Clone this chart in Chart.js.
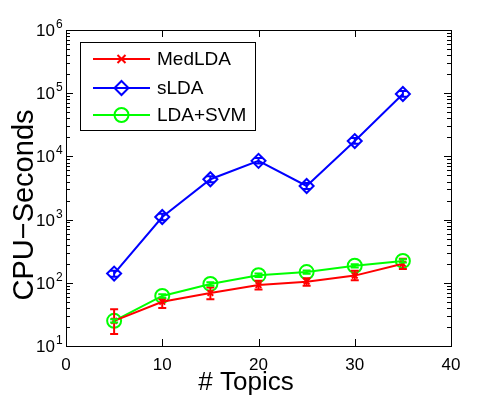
<!DOCTYPE html>
<html>
<head>
<meta charset="utf-8">
<script src="https://cdn.jsdelivr.net/npm/chart.js@4/dist/chart.umd.min.js"></script>
<style>
  body { margin: 0; background: #fff; }
  canvas { display: block; }
</style>
</head>
<body>
<canvas id="cpuChart" width="498" height="398"></canvas>
<script>
// number of topics
const topics = [5, 10, 15, 20, 25, 30, 35];

// CPU seconds per model
const medLDA = [25, 50, 69, 92, 104, 130, 200];
const medLow = [15.5, 40, 55, 78, 90, 110, 165];
const medHigh = [38, 56, 84, 108, 118, 155, 240];

const sLDA = [140, 1100, 4350, 8500, 3400, 17500, 97000];
const sLow = [125, 980, 3900, 7700, 3050, 15800, 88000];
const sHigh = [155, 1240, 4850, 9400, 3800, 19500, 108000];

const ldaSVM = [25, 62, 96, 132, 148, 186, 222];
const svmLow = [23.5, 58, 90, 124, 139, 175, 210];
const svmHigh = [26.5, 66, 102, 140, 157, 197, 235];

const xTicks = [0, 10, 20, 30, 40];
const yExp = [1, 2, 3, 4, 5, 6];

const names = ['MedLDA', 'sLDA', 'LDA+SVM'];
const colors = ['#ff0000', '#0000ff', '#00ff00'];
const markers = ['crossRot', 'rectRot', 'circle'];
const markerSize = [4, 7, 7];

const FONT = '"Liberation Sans", Arial, sans-serif';

function pts(vals) {
    return topics.map((t, i) => ({x: t, y: vals[i]}));
}

function drawMarker(ctx, type, x, y, r, color) {
    ctx.save();
    ctx.strokeStyle = color;
    ctx.lineWidth = 2;
    ctx.beginPath();
    if (type === 'crossRot') {
        ctx.moveTo(x - r, y - r); ctx.lineTo(x + r, y + r);
        ctx.moveTo(x + r, y - r); ctx.lineTo(x - r, y + r);
    } else if (type === 'rectRot') {
        ctx.moveTo(x, y - r); ctx.lineTo(x + r, y);
        ctx.lineTo(x, y + r); ctx.lineTo(x - r, y); ctx.closePath();
    } else {
        ctx.arc(x, y, r, 0, Math.PI * 2);
    }
    ctx.stroke();
    ctx.restore();
}

const errorBars = {
    id: 'errorBars',
    afterDatasetsDraw(chart) {
        const ctx = chart.ctx;
        const xs = chart.scales.x, ys = chart.scales.y;
        const sets = [[medLow, medHigh], [sLow, sHigh], [svmLow, svmHigh]];
        ctx.save();
        ctx.lineWidth = 2;
        sets.forEach((s, k) => {
            ctx.strokeStyle = colors[k];
            topics.forEach((t, i) => {
                const px = xs.getPixelForValue(t);
                const lo = ys.getPixelForValue(s[0][i]);
                const hi = ys.getPixelForValue(s[1][i]);
                ctx.beginPath();
                ctx.moveTo(px, lo); ctx.lineTo(px, hi);
                ctx.moveTo(px - 4, lo); ctx.lineTo(px + 4, lo);
                ctx.moveTo(px - 4, hi); ctx.lineTo(px + 4, hi);
                ctx.stroke();
            });
        });
        ctx.restore();
    }
};

const frame = {
    id: 'frame',
    afterDraw(chart) {
        const ctx = chart.ctx;
        const a = chart.chartArea;
        const xs = chart.scales.x, ys = chart.scales.y;
        ctx.save();
        ctx.strokeStyle = '#000';
        ctx.lineWidth = 1;
        ctx.strokeRect(Math.round(a.left) + 0.5, Math.round(a.top) + 0.5,
            Math.round(a.right - a.left), Math.round(a.bottom - a.top));

        // ticks, inward like matlab
        ctx.beginPath();
        xTicks.forEach(v => {
            const px = Math.round(xs.getPixelForValue(v)) + 0.5;
            ctx.moveTo(px, a.bottom); ctx.lineTo(px, a.bottom - 7);
            ctx.moveTo(px, a.top); ctx.lineTo(px, a.top + 7);
        });
        yExp.forEach(e => {
            for (let m = 1; m <= 9; m++) {
                const v = m * Math.pow(10, e);
                if (v > 1e6) break;
                const py = Math.round(ys.getPixelForValue(v)) + 0.5;
                const len = m === 1 ? 7 : 4;
                ctx.moveTo(a.left, py); ctx.lineTo(a.left + len, py);
                ctx.moveTo(a.right, py); ctx.lineTo(a.right - len, py);
            }
        });
        ctx.stroke();

        ctx.fillStyle = '#000';
        // x tick labels
        ctx.font = '17px ' + FONT;
        ctx.textAlign = 'center';
        ctx.textBaseline = 'alphabetic';
        xTicks.forEach(v => {
            ctx.fillText(String(v), xs.getPixelForValue(v), a.bottom + 24);
        });
        // y tick labels 10^e
        yExp.forEach(e => {
            const py = ys.getPixelForValue(Math.pow(10, e));
            ctx.font = '17px ' + FONT;
            ctx.textAlign = 'right';
            ctx.fillText('10', a.left - 11, py + 6);
            ctx.font = '12px ' + FONT;
            ctx.textAlign = 'left';
            ctx.fillText(String(e), a.left - 10, py - 2);
        });

        // axis titles
        ctx.font = '26px ' + FONT;
        ctx.textAlign = 'center';
        ctx.fillText('# Topics', 246, 390);
        ctx.save();
        ctx.translate(33, 205);
        ctx.rotate(-Math.PI / 2);
        ctx.font = '29px ' + FONT;
        ctx.fillText('CPU\u2212Seconds', 0, 0);
        ctx.restore();

        // legend
        ctx.fillStyle = '#fff';
        ctx.fillRect(80.5, 42.5, 175, 88);
        ctx.strokeRect(80.5, 42.5, 175, 88);
        const rowY = [59, 88, 115];
        ctx.font = '19px ' + FONT;
        ctx.textAlign = 'left';
        ctx.textBaseline = 'middle';
        names.forEach((n, k) => {
            ctx.strokeStyle = colors[k];
            ctx.lineWidth = 2;
            ctx.beginPath();
            ctx.moveTo(93, rowY[k]); ctx.lineTo(150, rowY[k]);
            ctx.stroke();
            drawMarker(ctx, markers[k], 121.5, rowY[k], markerSize[k], colors[k]);
            ctx.fillStyle = '#000';
            ctx.fillText(n, 157, rowY[k] + 1);
        });
        ctx.restore();
    }
};

const seriesData = [medLDA, sLDA, ldaSVM];

new Chart(document.getElementById('cpuChart'), {
    type: 'line',
    data: {
        datasets: seriesData.map((vals, k) => ({
            label: names[k],
            data: pts(vals),
            borderColor: colors[k],
            backgroundColor: 'rgba(0,0,0,0)',
            borderWidth: 2,
            pointStyle: markers[k],
            pointRadius: markerSize[k],
            pointBorderWidth: 2,
            pointBorderColor: colors[k],
            pointBackgroundColor: 'rgba(0,0,0,0)',
            tension: 0,
            clip: false
        }))
    },
    options: {
        responsive: false,
        animation: false,
        layout: { padding: { left: 66, right: 47, top: 30, bottom: 52 } },
        scales: {
            x: { type: 'linear', min: 0, max: 40, display: false },
            y: { type: 'logarithmic', min: 10, max: 1e6, display: false }
        },
        plugins: {
            legend: { display: false },
            tooltip: { enabled: false }
        }
    },
    plugins: [errorBars, frame]
});
</script>
</body>
</html>
